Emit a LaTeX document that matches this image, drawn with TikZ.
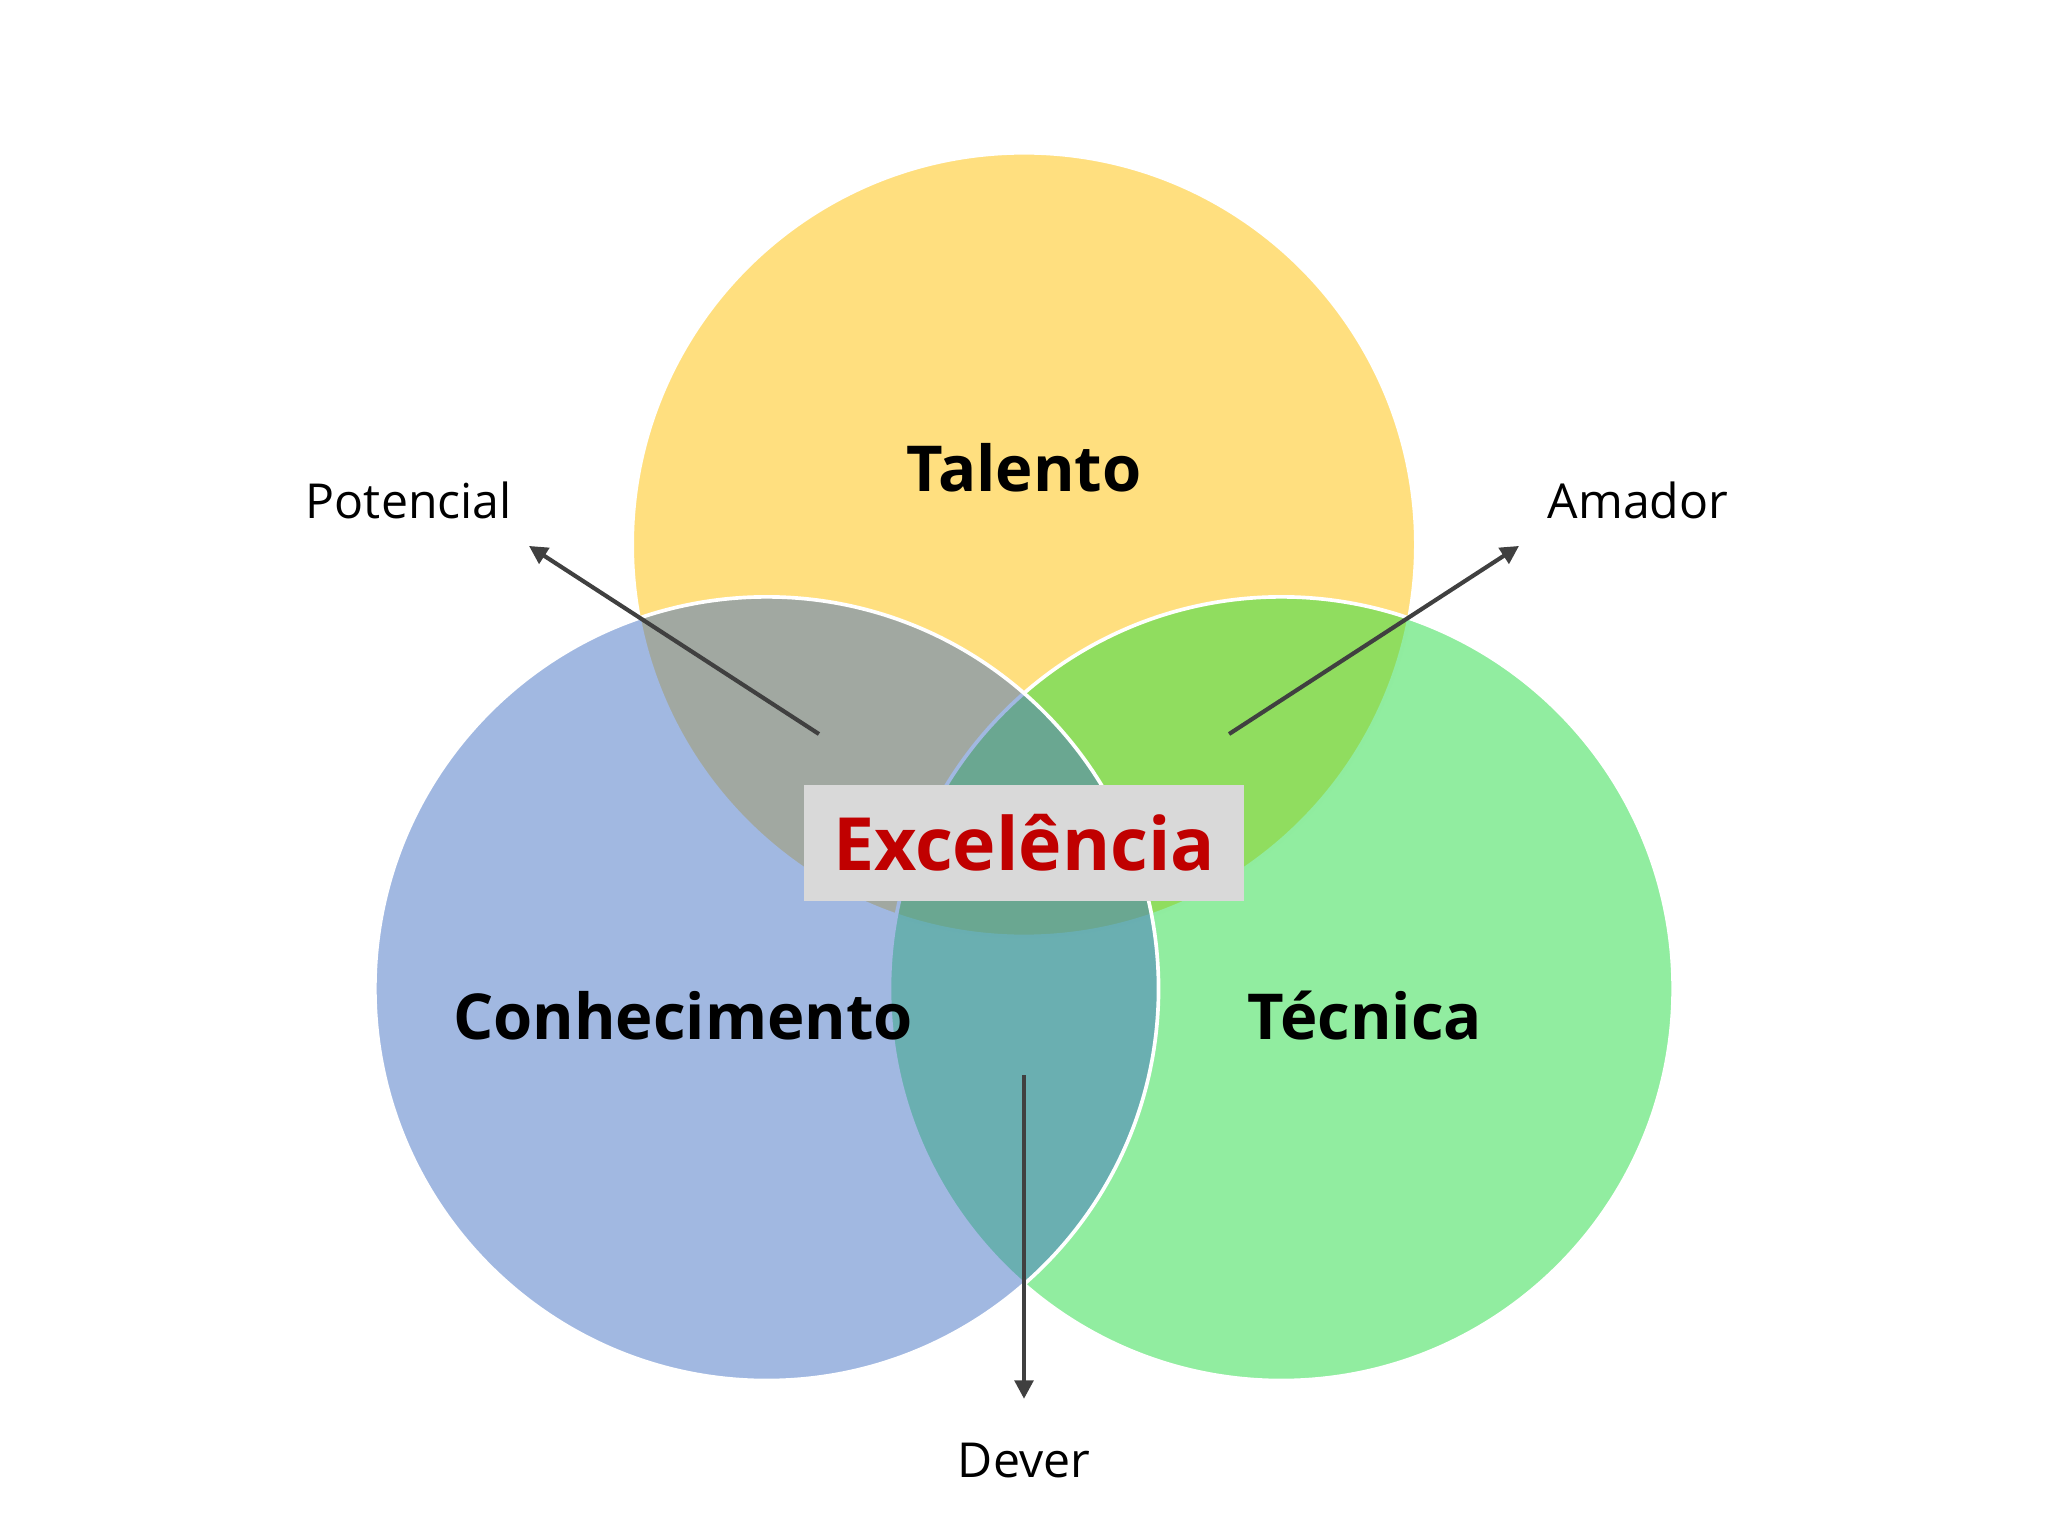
\documentclass[tikz,border=0pt]{standalone}
\usepackage{fontspec}
\setmainfont{Open Sans}
\usepackage{xcolor}
\usepackage{tikz}
\usetikzlibrary{positioning, calc, arrows.meta}
\definecolor{talentoColor}{RGB}{255,192,0}
\definecolor{conhColor}{RGB}{68,114,196}
\definecolor{tecColor}{RGB}{35,219,65}
\definecolor{boxGray}{RGB}{217,217,217}
\definecolor{excRed}{RGB}{192,0,0}
\definecolor{ptrColor}{RGB}{64,64,64}
\tikzset{
    venn/.style={
        fill opacity=0.5,
        draw=white,
        line width=0.8pt
    },
    bigLabel/.style={
        font=\fontsize{13.8}{16}\selectfont\bfseries,
        anchor=base,
        inner sep=0pt
    },
    smallLabel/.style={
        font=\fontsize{10.5}{13}\selectfont,
        anchor=base,
        inner sep=0pt
    },
    ptr/.style={
        -{Triangle[length=4pt,width=4pt]},
        draw=ptrColor,
        line width=0.9pt
    }
}

\begin{document}
\begin{tikzpicture}
                \useasboundingbox (0,0) rectangle (15.68,11.76);
                
                % circles
                \filldraw[venn, fill=talentoColor] (7.84,7.59) circle (3);
                \filldraw[venn, fill=tecColor] (9.81,4.19) circle (3);
                \filldraw[venn, fill=conhColor] (5.87,4.19) circle (3);
                
                \node[bigLabel] (talento) at (7.84,8.00) {Talento};
                \node[bigLabel] (conh) at (5.23,3.80) {Conhecimento};
                \node[bigLabel] (tecnica) at (10.45,3.80) {Técnica};
                
                \node[fill=boxGray, minimum width=3.37cm, minimum height=0.89cm, inner sep=0pt,
                      text=excRed, font=\fontsize{16}{19}\selectfont\bfseries] (exc) at (7.84,5.305) {Excelência};
                
                % labels outside
                \node[smallLabel] (potencial) at (3.13,7.79) {Potencial};
                \node[smallLabel] (amador) at (12.54,7.79) {Amador};
                \node[smallLabel] (dever) at (7.84,0.45) {Dever};
                
                \coordinate (potTail) at (6.27,6.14);
                \coordinate (potTip) at (4.05,7.58);
                \coordinate (amaTail) at (9.41,6.14);
                \coordinate (amaTip) at (11.63,7.58);
                \coordinate (devTail) at (7.84,3.53);
                \coordinate (devTip) at (7.84,1.05);
                
                \draw[ptr] (potTail) -- (potTip);
                \draw[ptr] (amaTail) -- (amaTip);
                \draw[ptr] (devTail) -- (devTip);
            \end{tikzpicture}
\end{document}
